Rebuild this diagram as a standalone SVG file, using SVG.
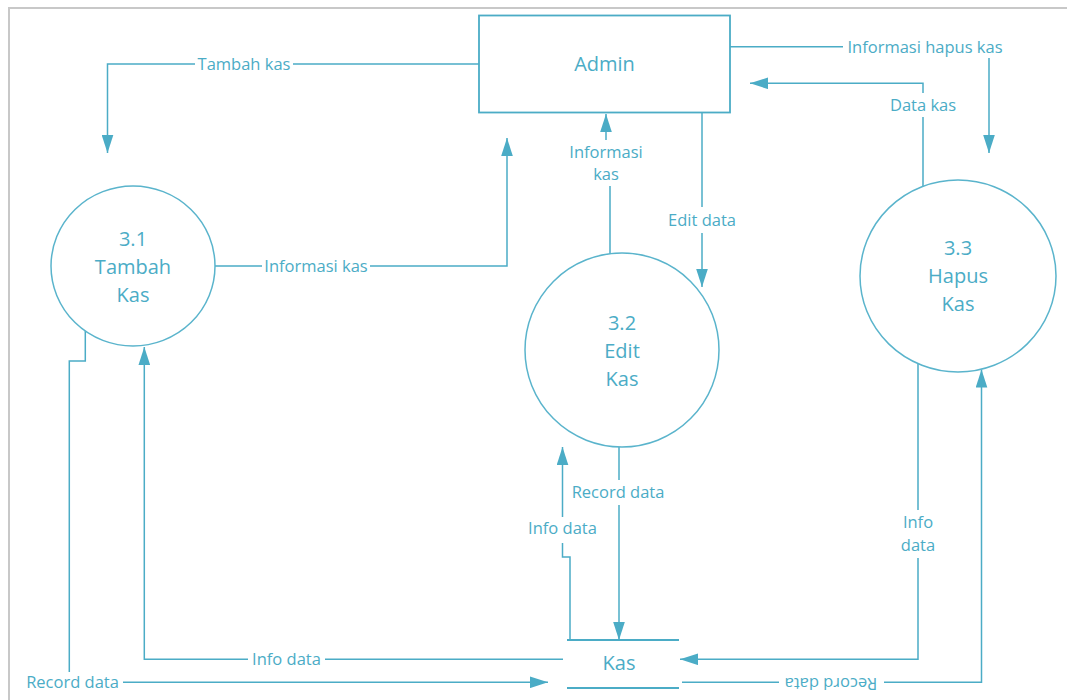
<svg xmlns="http://www.w3.org/2000/svg" width="1067" height="700" viewBox="0 0 1067 700">
  <style>
    .frame { fill: none; stroke: #c8c8c8; stroke-width: 2; }
    .node { fill: #ffffff; stroke: #5ab4cc; stroke-width: 1.5; }
    .box { fill: #ffffff; stroke: #4bacc6; stroke-width: 1.8; }
    .store { fill: none; stroke: #4bacc6; stroke-width: 1.8; }
    .ntext { font-family: "Open Sans", "Liberation Sans", sans-serif; font-size: 20px; fill: #4bacc6; text-anchor: middle; }
    .conn { fill: none; stroke: #4bacc6; stroke-width: 1.5; marker-end: url(#arrow); }
    .lbg { fill: #ffffff; stroke: none; }
    .ltext { font-family: "Open Sans", "Liberation Sans", sans-serif; font-size: 16.5px; fill: #4bacc6; text-anchor: middle; }
  </style>
  <defs>
    <marker id="arrow" markerUnits="userSpaceOnUse" markerWidth="18" markerHeight="12" viewBox="0 0 17 11" refX="17" refY="5.5" orient="auto">
      <path d="M0,0 L17,5.5 L0,11 Z" fill="#4bacc6"/>
    </marker>
  </defs>
  <rect width="1067" height="700" fill="#ffffff"/>
  <path class="frame" d="M9,700 V8 H1067"/>

  <g id="connectors">
    <path class="conn" d="M479,64 H107.5 V153"/>
    <path class="conn" d="M215,266 H507 V138"/>
    <path class="conn" d="M610,254 V163 H606 V114"/>
    <path class="conn" d="M702,109 V287"/>
    <path class="conn" d="M730,46.7 H989 V153"/>
    <path class="conn" d="M923,186 V83.3 H750"/>
    <path class="conn" d="M619,447 V640"/>
    <path class="conn" d="M570,640 V557 H562.5 V447"/>
    <path class="conn" d="M918,364 V659.3 H680"/>
    <path class="conn" d="M682,682.3 H981.5 V369.5"/>
    <path class="conn" d="M563,659.3 H144.3 V347"/>
    <path class="conn" d="M85.3,331 V361 H69.3 V682.3 H548"/>

    <g id="labels">
      <rect class="lbg" x="195" y="54" width="98" height="20"/>
      <text class="ltext" x="244" y="69.5">Tambah kas</text>
      <rect class="lbg" x="262" y="256" width="108" height="20"/>
      <text class="ltext" x="316" y="272">Informasi kas</text>
      <rect class="lbg" x="566" y="140" width="82" height="46"/>
      <text class="ltext" x="606" y="158">Informasi</text>
      <text class="ltext" x="606" y="180">kas</text>
      <rect class="lbg" x="664" y="207" width="76" height="26"/>
      <text class="ltext" x="702" y="226">Edit data</text>
      <rect class="lbg" x="843" y="34" width="164" height="24"/>
      <text class="ltext" x="925" y="52.5">Informasi hapus kas</text>
      <rect class="lbg" x="886" y="93" width="72" height="24"/>
      <text class="ltext" x="923" y="111">Data kas</text>
      <rect class="lbg" x="567" y="480" width="102" height="25"/>
      <text class="ltext" x="618" y="498">Record data</text>
      <rect class="lbg" x="524" y="517" width="77" height="26"/>
      <text class="ltext" x="562.5" y="534">Info data</text>
      <rect class="lbg" x="897" y="510" width="43" height="48"/>
      <text class="ltext" x="918" y="528">Info</text>
      <text class="ltext" x="918" y="551">data</text>
      <rect class="lbg" x="779" y="672" width="105" height="20"/>
      <text class="ltext" x="831" y="687" transform="rotate(180 831 682.3)">Record data</text>
      <rect class="lbg" x="248" y="649" width="77" height="20"/>
      <text class="ltext" x="286.5" y="665">Info data</text>
      <rect class="lbg" x="22" y="672" width="101" height="20"/>
      <text class="ltext" x="72.5" y="687.5">Record data</text>
    </g>
  </g>

  <g id="admin">
    <rect class="box" x="479" y="15.5" width="251" height="97"/>
    <text class="ntext" x="604.5" y="71">Admin</text>
  </g>
  <g id="p31">
    <ellipse class="node" cx="133" cy="266" rx="82" ry="80"/>
    <text class="ntext" x="133" y="246">3.1</text>
    <text class="ntext" x="133" y="274">Tambah</text>
    <text class="ntext" x="133" y="302">Kas</text>
  </g>
  <g id="p32">
    <ellipse class="node" cx="622" cy="350" rx="97" ry="97"/>
    <text class="ntext" x="622" y="330">3.2</text>
    <text class="ntext" x="622" y="358">Edit</text>
    <text class="ntext" x="622" y="386">Kas</text>
  </g>
  <g id="p33">
    <ellipse class="node" cx="958" cy="276" rx="98" ry="96"/>
    <text class="ntext" x="958" y="255">3.3</text>
    <text class="ntext" x="958" y="283">Hapus</text>
    <text class="ntext" x="958" y="311">Kas</text>
  </g>
  <g id="store-kas">
    <path class="store" d="M567,640 H679 M567,688 H679"/>
    <text class="ntext" x="619" y="670">Kas</text>
  </g>
</svg>
